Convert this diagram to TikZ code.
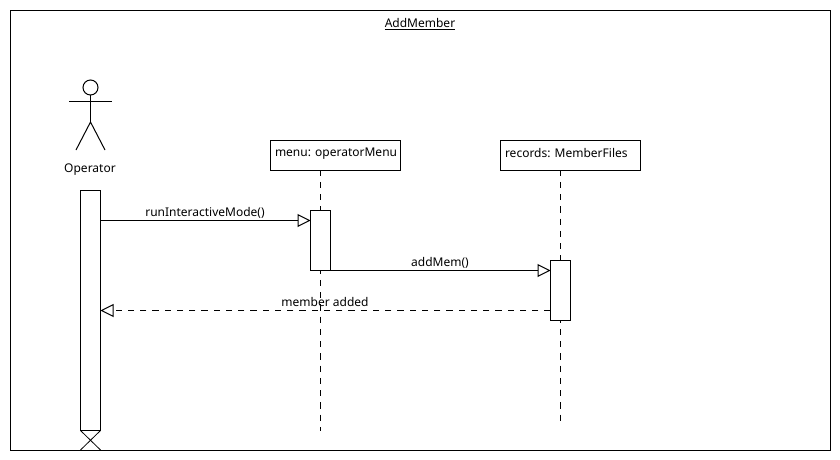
\documentclass[tikz,border=0pt]{standalone}
\usepackage{fontspec}
\setmainfont{Noto Sans}
\usetikzlibrary{arrows.meta}
\tikzset{
  every node/.style={inner sep=0pt,outer sep=0pt},
  lbl/.style={font=\fontsize{12pt}{14pt}\selectfont,text=black},
  objbox/.style={draw=black,line width=1pt,fill=white,minimum height=30pt,anchor=north west},
  actbar/.style={draw=black,line width=1pt,fill=white,minimum width=20pt,anchor=north west},
  lifeline/.style={draw=black,line width=1pt,dash pattern=on 6.25pt off 6pt,dash phase=1pt},
  msg/.style={draw=black,line width=1pt,-{Triangle[open,fill=white,length=13pt,width=13pt]}},
  retmsg/.style={msg,dash pattern=on 6.25pt off 6pt},
  stick/.style={draw=black,line width=1pt},
}
\begin{document}
\begin{tikzpicture}[x=1pt,y=-1pt]
\useasboundingbox (0,0) rectangle (840,460);
\fill[white] (0,0) rectangle (840,460);
% frame
\node[draw=black,line width=1pt,minimum width=820pt,minimum height=439pt,anchor=north west] (frame) at (10.5,11) {};
\node[lbl] (title) at (420,24) {\underline{AddMember}};
% actor
\node[draw=black,line width=1pt,circle,minimum size=15pt] (head) at (90.5,87.5) {};
\coordinate (neck) at (90.5,122);
\coordinate (armL) at (69,101.5);
\coordinate (armR) at (111.5,101.5);
\coordinate (legL) at (76,150);
\coordinate (legR) at (105,150);
\draw[stick] (head.south) -- (neck);
\draw[stick] (armL) -- (armR);
\draw[stick] (legL) -- (neck) -- (legR);
\node[lbl] (operator) at (90,169.5) {Operator};
% operator activation
\node[actbar,minimum height=240pt] (opbar) at (80.5,190.5) {};
\coordinate (xa) at (100.5,450);
\coordinate (xb) at (80.5,450);
\draw[line width=.8pt] (opbar.south west) -- (xa);
\draw[line width=.8pt] (opbar.south east) -- (xb);
% object boxes
\node[objbox,minimum width=130pt] (menu) at (270.5,140.5) {};
\node[lbl,anchor=west] (menulbl) at (275,153.5) {menu: operatorMenu};
\node[objbox,minimum width=140pt] (records) at (500.5,140.5) {};
\node[lbl,anchor=west] (recordslbl) at (505,153.5) {records: MemberFiles};
% lifelines
\coordinate (menuTop) at (320.5,170.5);
\coordinate (menuEnd) at (320.5,430.5);
\coordinate (recTop) at (560.5,170.5);
\coordinate (recEnd) at (560.5,420.5);
\draw[lifeline] (menuTop) -- (menuEnd);
\draw[lifeline] (recTop) -- (recEnd);
% activations
\node[actbar,minimum height=60pt] (menubar) at (310.5,210.5) {};
\node[actbar,minimum height=60pt] (recbar) at (550.5,260.5) {};
% message levels
\coordinate (y1) at (0,220.5);
\coordinate (y2) at (0,270.5);
\coordinate (y3) at (0,310.5);
\draw[msg] (opbar.east |- y1) -- (menubar.west |- y1);
\draw[msg] (menubar.east |- y2) -- (recbar.west |- y2);
\draw[retmsg] (recbar.west |- y3) -- (opbar.east |- y3);
\node[lbl] (m1) at (205,212.5) {runInteractiveMode()};
\node[lbl] (m2) at (440,262.5) {addMem()};
\node[lbl] (m3) at (325,302) {member added};
\end{tikzpicture}
\end{document}
